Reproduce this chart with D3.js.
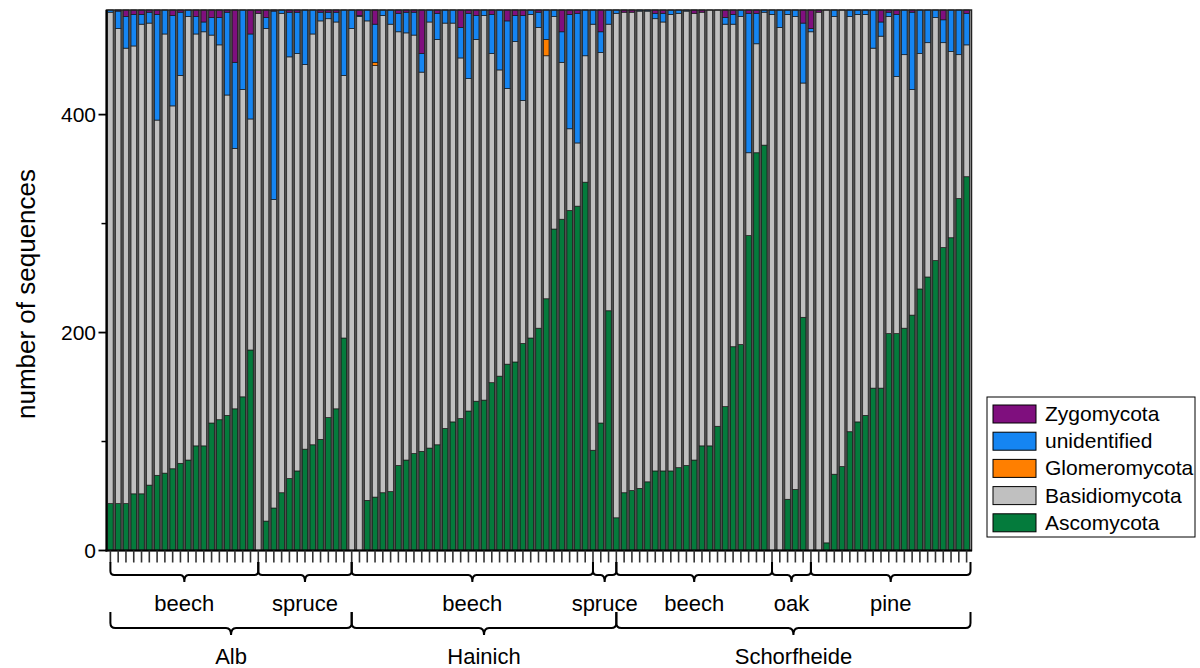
<!DOCTYPE html>
<html>
<head>
<meta charset="utf-8">
<script src="https://cdn.jsdelivr.net/npm/d3@7"></script>
<style>
  body { margin: 0; background: #fff; }
  svg { display: block; font-family: Arial, "Liberation Sans", sans-serif; }
</style>
</head>
<body>
<svg id="chart" width="1200" height="668"></svg>
<script>
// ── Data ──
const forests = [
  { site: 'Alb', type: 'beech', n: 19 },
  { site: 'Alb', type: 'spruce', n: 12 },
  { site: 'Hainich', type: 'beech', n: 31 },
  { site: 'Hainich', type: 'spruce', n: 3 },
  { site: 'Schorfheide', type: 'beech', n: 20 },
  { site: 'Schorfheide', type: 'oak', n: 5 },
  { site: 'Schorfheide', type: 'pine', n: 21 }
];
const sites = ['Alb', 'Hainich', 'Schorfheide'];

const ascomycota = [
  43, 43, 43, 52, 52, 60, 69, 71, 75, 80, 83, 96, 96, 117, 120, 124, 130, 141, 184,
  0, 27, 39, 53, 66, 73, 93, 97, 102, 122, 130, 195,
  0, 0, 46, 49, 53, 54, 78, 83, 89, 91, 94, 97, 112, 118, 121, 128, 137, 138, 154, 160,
  171, 173, 190, 195, 204, 231, 295, 304, 312, 316, 338,
  92, 117, 220,
  30, 53, 55, 57, 63, 73, 73, 73, 76, 78, 83, 96, 96, 114, 132, 187, 189, 289, 365, 372,
  0, 0, 47, 56, 214,
  0, 0, 7, 70, 77, 109, 118, 124, 149, 149, 199, 199, 204, 216, 240, 251, 266, 278, 287, 323, 343
];
const basidiomycota = [
  451, 436, 418, 411, 431, 424, 326, 403, 333, 356, 407, 378, 380, 356, 344, 294, 239, 282, 212,
  493, 452, 283, 440, 387, 383, 353, 377, 384, 366, 355, 241,
  479, 490, 440, 396, 438, 429, 398, 392, 384, 348, 391, 372, 372, 366, 331, 305, 332, 353, 302, 281,
  253, 294, 223, 297, 276, 223, 195, 144, 75, 58, 116,
  391, 340, 263,
  463, 441, 439, 438, 432, 415, 412, 419, 417, 417, 410, 398, 400, 382, 351, 296, 301, 76, 100, 122,
  492, 480, 445, 434, 215,
  476, 494, 489, 420, 419, 381, 374, 368, 312, 323, 291, 236, 251, 207, 216, 215, 223, 188, 171, 132, 121
];
const glomeromycota = [
  0, 0, 0, 0, 0, 0, 0, 0, 0, 0, 0, 0, 0, 0, 0, 0, 0, 0, 0,
  0, 0, 0, 0, 0, 0, 0, 0, 0, 0, 0, 0,
  0, 0, 0, 3, 0, 0, 0, 0, 0, 0, 0, 0, 0, 0, 0, 0, 0, 0, 0, 0,
  0, 0, 0, 0, 0, 15, 0, 0, 0, 0, 0,
  0, 0, 0,
  0, 0, 0, 0, 0, 0, 0, 0, 0, 0, 0, 0, 0, 0, 0, 0, 0, 0, 0, 0,
  0, 0, 0, 0, 0,
  0, 0, 0, 0, 0, 0, 0, 0, 0, 0, 0, 0, 0, 0, 0, 0, 0, 0, 0, 0, 0
];
const unidentified = [
  2, 16, 29, 29, 9, 10, 97, 22, 83, 58, 6, 16, 9, 16, 25, 76, 79, 73, 78,
  0, 10, 173, 3, 41, 38, 50, 22, 8, 6, 9, 60,
  17, 1, 10, 35, 5, 13, 17, 19, 21, 17, 11, 24, 12, 12, 28, 60, 22, 5, 36, 55,
  62, 24, 78, 4, 14, 27, 6, 28, 105, 119, 42,
  13, 19, 13,
  3, 0, 0, 1, 1, 5, 8, 4, 3, 1, 0, 0, 0, 0, 6, 9, 6, 128, 28, 2,
  4, 16, 4, 6, 55,
  3, 0, 0, 6, 0, 6, 4, 4, 35, 13, 4, 57, 41, 71, 40, 30, 7, 21, 38, 41, 29
];
const zygomycota = [
  0, 1, 6, 4, 4, 2, 4, 0, 5, 2, 0, 6, 11, 7, 7, 2, 48, 0, 22,
  3, 7, 1, 0, 2, 2, 0, 0, 2, 2, 2, 0,
  0, 5, 0, 13, 0, 0, 3, 2, 2, 40, 0, 3, 0, 0, 16, 3, 5, 0, 4, 0,
  10, 5, 5, 0, 2, 0, 0, 20, 4, 3, 0,
  0, 20, 0,
  0, 2, 2, 0, 0, 3, 3, 0, 0, 0, 3, 2, 0, 0, 7, 4, 0, 3, 3, 0,
  0, 0, 0, 0, 12,
  17, 2, 0, 0, 0, 0, 0, 0, 0, 11, 2, 4, 0, 2, 0, 0, 0, 9, 0, 0, 3
];

const seriesNames = ['Ascomycota', 'Basidiomycota', 'Glomeromycota', 'unidentified', 'Zygomycota'];
const seriesValues = [ascomycota, basidiomycota, glomeromycota, unidentified, zygomycota];
const colors = ['#047b3c', '#c0c0c0', '#ff7f00', '#1585f2', '#7f0f7e'];
const yMax = 496;
const yMajor = [0, 200, 400];
const yMinor = [100, 300];

// ── Build rows ──
const samples = [];
forests.forEach((f, gi) => {
  for (let i = 0; i < f.n; i++) samples.push({ id: `${f.site}-${f.type}-${i}`, group: gi, site: f.site });
});
const rows = samples.map((s, i) => {
  const r = { id: s.id };
  seriesNames.forEach((k, j) => { r[k] = seriesValues[j][i]; });
  return r;
});
const stacked = d3.stack().keys(seriesNames)(rows);

// ── Scales ──
const plot = { left: 106.5, right: 970.5, top: 10, bottom: 550.5 };
const x = d3.scaleBand().domain(rows.map(d => d.id))
  .range([plot.left, plot.right]).paddingInner(0.3).paddingOuter(0.15);
const y = d3.scaleLinear().domain([0, yMax]).range([plot.bottom, plot.top]);
const cx = id => x(id) + x.bandwidth() / 2;

const svg = d3.select('#chart');

// gap colour between bars
svg.append('rect')
  .attr('x', plot.left).attr('y', y(yMax))
  .attr('width', plot.right - plot.left).attr('height', y(0) - y(yMax))
  .attr('fill', '#505050');

// Bars
svg.append('g').selectAll('g')
  .data(stacked).enter().append('g')
  .attr('fill', (d, i) => colors[i])
  .selectAll('rect')
  .data(d => d.filter(s => s[1] - s[0] > 0)).enter().append('rect')
  .attr('x', d => x(d.data.id))
  .attr('y', d => y(d[1]))
  .attr('width', x.bandwidth())
  .attr('height', d => y(d[0]) - y(d[1]))
  .attr('stroke', '#1a1a1a').attr('stroke-width', 0.7);

// Frame
svg.append('rect')
  .attr('x', plot.left).attr('y', plot.top)
  .attr('width', plot.right + 1 - plot.left).attr('height', plot.bottom - plot.top)
  .attr('fill', 'none').attr('stroke', '#222').attr('stroke-width', 1.5);
svg.append('line')
  .attr('x1', plot.left).attr('x2', plot.left).attr('y1', plot.top).attr('y2', plot.bottom + 1)
  .attr('stroke', '#000').attr('stroke-width', 2);
svg.append('line')
  .attr('x1', plot.left - 1).attr('x2', plot.right + 1.5).attr('y1', plot.bottom).attr('y2', plot.bottom)
  .attr('stroke', '#000').attr('stroke-width', 2);

// Y axis
svg.selectAll('.ymaj').data(yMajor).enter().append('line')
  .attr('x1', plot.left - 8).attr('x2', plot.left)
  .attr('y1', d => y(d)).attr('y2', d => y(d))
  .attr('stroke', '#000').attr('stroke-width', 1.8);
svg.selectAll('.ymin').data(yMinor).enter().append('line')
  .attr('x1', plot.left - 5).attr('x2', plot.left)
  .attr('y1', d => y(d)).attr('y2', d => y(d))
  .attr('stroke', '#000').attr('stroke-width', 1.5);
svg.selectAll('.ylab').data(yMajor).enter().append('text')
  .attr('x', 96).attr('y', d => y(d) + 7)
  .attr('text-anchor', 'end').style('font-size', '21px').attr('fill', '#000')
  .text(d => d);
svg.append('text')
  .attr('transform', 'translate(35,294) rotate(-90)')
  .attr('text-anchor', 'middle').style('font-size', '26px').attr('fill', '#000')
  .text('number of sequences');

// X ticks
svg.selectAll('.xt').data(rows).enter().append('line')
  .attr('x1', d => cx(d.id)).attr('x2', d => cx(d.id))
  .attr('y1', plot.bottom).attr('y2', plot.bottom + 12)
  .attr('stroke', '#333').attr('stroke-width', 1.6);

// Brackets
function brace(x0, x1, yt, yh, yc, r) {
  const xm = (x0 + x1) / 2;
  return `M${x0},${yt} L${x0},${yh - r} Q${x0},${yh} ${x0 + r},${yh} L${xm - r},${yh} ` +
    `Q${xm},${yh} ${xm},${yc} Q${xm},${yh} ${xm + r},${yh} L${x1 - r},${yh} ` +
    `Q${x1},${yh} ${x1},${yh - r} L${x1},${yt}`;
}
function spans(keyFn, keys) {
  return keys.map((k, i) => {
    const first = samples.findIndex(s => keyFn(s) === k);
    const next = i < keys.length - 1 ? samples.findIndex(s => keyFn(s) === keys[i + 1]) : -1;
    const x0 = cx(samples[first].id);
    const x1 = next >= 0 ? cx(samples[next].id) : x(samples[samples.length - 1].id) + x.step() * 0.85;
    return { x0, x1 };
  });
}
const groupSpans = spans(s => s.group, forests.map((f, i) => i));
groupSpans.forEach((s, i) => {
  svg.append('path').attr('d', brace(s.x0, s.x1, 562, 575, 582, 4))
    .attr('fill', 'none').attr('stroke', '#000').attr('stroke-width', 2);
  svg.append('text')
    .attr('x', (s.x0 + s.x1) / 2).attr('y', 611)
    .attr('text-anchor', 'middle').style('font-size', '22px').attr('fill', '#000')
    .text(forests[i].type);
});
const siteSpans = spans(s => s.site, sites);
siteSpans.forEach((s, i) => {
  svg.append('path').attr('d', brace(s.x0, s.x1, 612, 628, 635, 5))
    .attr('fill', 'none').attr('stroke', '#000').attr('stroke-width', 2);
  svg.append('text')
    .attr('x', (s.x0 + s.x1) / 2).attr('y', 664)
    .attr('text-anchor', 'middle').style('font-size', '22px').attr('fill', '#000')
    .text(sites[i]);
});

// Legend
const legend = svg.append('g').attr('transform', 'translate(987,397)');
legend.append('rect').attr('width', 208).attr('height', 140)
  .attr('fill', '#fff').attr('stroke', '#000').attr('stroke-width', 1);
seriesNames.slice().reverse().forEach((name, i) => {
  const ci = seriesNames.indexOf(name);
  legend.append('rect').attr('x', 6).attr('y', 8 + i * 27.2)
    .attr('width', 43).attr('height', 18)
    .attr('fill', colors[ci]).attr('stroke', '#000').attr('stroke-width', 1);
  legend.append('text').attr('x', 58).attr('y', 24 + i * 27.2)
    .style('font-size', '21px').attr('fill', '#000').text(name);
});
</script>
</body>
</html>
